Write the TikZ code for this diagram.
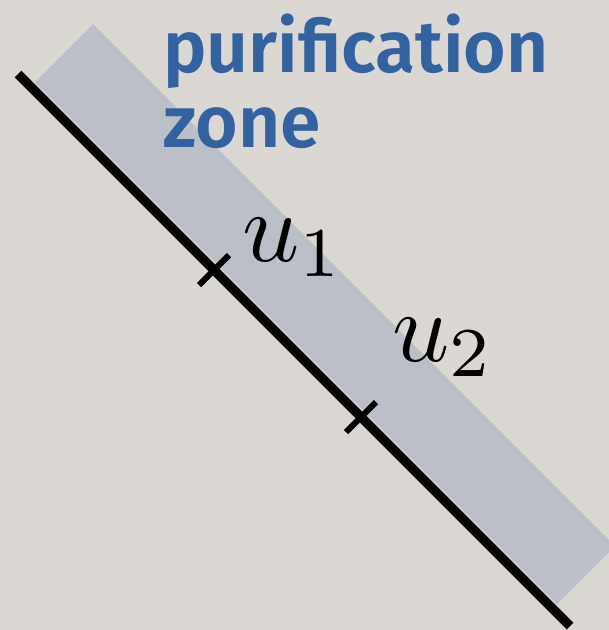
\documentclass[tikz,border=0pt]{standalone}
\usepackage{fontspec}
\usetikzlibrary{calc}
\newfontfamily\labelfont{Fira Sans SemiBold}
\definecolor{bgc}{HTML}{DBD7D3}
\definecolor{bandc}{HTML}{BBBFC7}
\definecolor{txtc}{HTML}{3262A0}
\tikzset{
  axisline/.style={line width=9.5pt, black},
  tickmark/.style={line width=6pt, black},
  mathlabel/.style={inner sep=0pt, anchor=base west},
  zonelabel/.style={inner sep=0pt, anchor=base west, text=txtc, font=\labelfont\fontsize{73}{75}\selectfont}
}
\begin{document}
\begin{tikzpicture}[x=1pt,y=-1pt]
\useasboundingbox (0,0) rectangle (609,630);
\fill[bgc] (0,0) rectangle (609,630);
\begin{scope}
\clip (0,0) rectangle (609,630);
\fill[bandc] (35,82) -- (93,24) -- (615,546) -- (557,604) -- cycle;
\end{scope}
\coordinate (s) at (18,74);
\coordinate (e) at (570,626);
\draw[axisline] (s) -- (e);
\coordinate (t1) at (214,270);
\coordinate (t2) at (361,417);
\draw[tickmark] ($(t1)+(-15,15)$) -- ($(t1)+(15,-15)$);
\draw[tickmark] ($(t2)+(-15,15)$) -- ($(t2)+(15,-15)$);
\node[mathlabel] (u1) at (242,261) {\scalebox{10}{$u_1$}};
\node[mathlabel] (u2) at (392,361) {\scalebox{10}{$u_2$}};
\node[zonelabel] (p) at (163,72) {purification};
\node[zonelabel] (z) at (163,147) {zone};
\end{tikzpicture}
\end{document}
